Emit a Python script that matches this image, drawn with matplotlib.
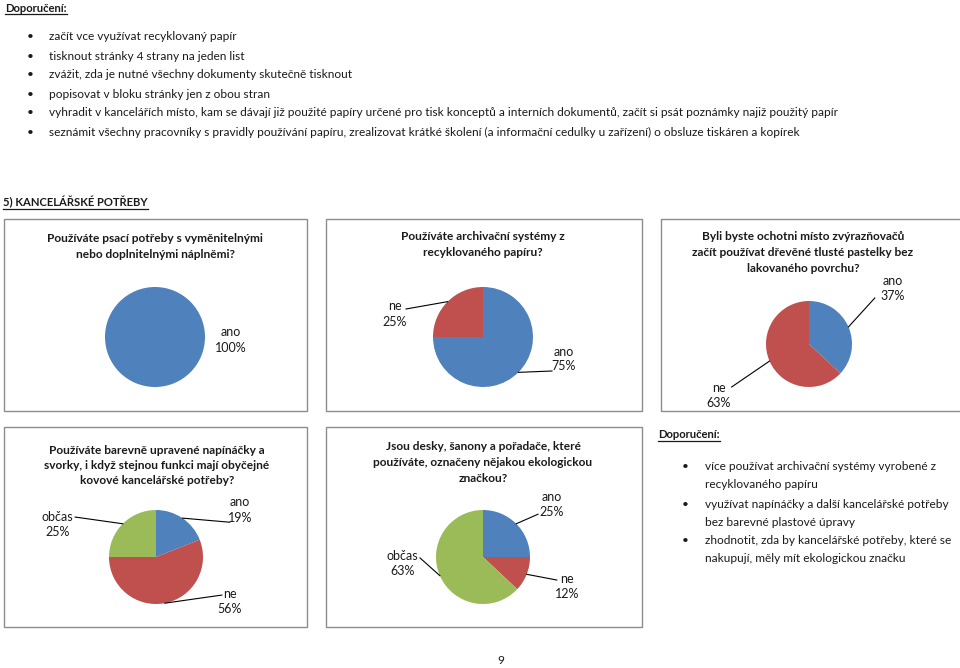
import matplotlib
matplotlib.use("Agg")
import matplotlib.pyplot as plt
import matplotlib.patches as mpatches
import numpy as np

plt.rcParams["font.family"] = ["Lato", "DejaVu Sans"]

# Barvy jako v Excelu 2007
COLORS = {"ano": "#4F81BD", "ne": "#C0504D", "občas": "#9BBB59"}
TEXT = "#1a1a1a"
W, H = 960, 668

# --- data grafů ---
pie1_labels = ["ano"]
pie1_values = [100]
pie2_labels = ["ano", "ne"]
pie2_values = [75, 25]
pie3_labels = ["ano", "ne"]
pie3_values = [37, 63]
pie4_labels = ["ano", "ne", "občas"]
pie4_values = [19, 56, 25]
pie5_labels = ["ano", "ne", "občas"]
pie5_values = [25, 12, 63]

titles = [
    ["Používáte psací potřeby s vyměnitelnými", "nebo doplnitelnými náplněmi?"],
    ["Používáte archivační systémy z", "recyklovaného papíru?"],
    ["Byli byste ochotni místo zvýrazňovačů", "začít používat dřevěné tlusté pastelky bez", "lakovaného povrchu?"],
    ["Používáte barevně upravené napínáčky a", "svorky, i když stejnou funkci mají obyčejné", "kovové kancelářské potřeby?"],
    ["Jsou desky, šanony a pořadače, které", "používáte, označeny nějakou ekologickou", "značkou?"],
]

doporuceni_1 = [
    "začít vce využívat recyklovaný papír",
    "tisknout stránky 4 strany na jeden list",
    "zvážit, zda je nutné všechny dokumenty skutečně tisknout",
    "popisovat v bloku stránky jen z obou stran",
    "vyhradit v kancelářích místo, kam se dávají již použité papíry určené pro tisk konceptů a interních dokumentů, začít si psát poznámky najiž použitý papír",
    "seznámit všechny pracovníky s pravidly používání papíru, zrealizovat krátké školení (a informační cedulky u zařízení) o obsluze tiskáren a kopírek",
]
doporuceni_2 = [
    ["více používat archivační systémy vyrobené z", "recyklovaného papíru"],
    ["využívat napínáčky a další kancelářské potřeby", "bez barevné plastové úpravy"],
    ["zhodnotit, zda by kancelářské potřeby, které se", "nakupují, měly mít ekologickou značku"],
]

# --- rozvržení (pixely) ---
charts = [
    dict(labels=pie1_labels, values=pie1_values, box=(4, 219, 307, 411), center=(155, 337), r=50,
         title_y=238, title_x=155, title_dy=17,
         lab=[((1.52, -0.06), None)]),
    dict(labels=pie2_labels, values=pie2_values, box=(326, 219, 642, 411), center=(483, 337), r=50,
         title_y=237, title_x=483, title_dy=16,
         lab=[((1.62, -0.44), (1.38, -0.68)), ((-1.76, 0.46), (-1.54, 0.56))]),
    dict(labels=pie3_labels, values=pie3_values, box=(661, 219, 980, 411), center=(809, 344), r=43,
         title_y=237, title_x=803, title_dy=15.5,
         lab=[((1.95, 1.30), (1.53, 1.07)), ((-2.1, -1.19), (-1.80, -1.00))]),
    dict(labels=pie4_labels, values=pie4_values, box=(4, 427, 307, 627), center=(156, 557), r=47,
         title_y=450, title_x=157, title_dy=15.5,
         lab=[((1.79, 1.0), (1.57, 0.74)), ((1.57, -0.94), (1.40, -0.81)), ((-2.09, 0.70), (-1.72, 0.85))]),
    dict(labels=pie5_labels, values=pie5_values, box=(326, 427, 642, 627), center=(483, 557), r=47,
         title_y=447, title_x=483, title_dy=15.5,
         lab=[((1.47, 1.11), (1.17, 0.91)), ((1.79, -0.62), (1.57, -0.49)), ((-1.72, -0.13), (-1.34, -0.02))]),
]

FS_BODY = 8.6
FS_HEAD = 8.1
FS_TITLE = 8.6
FS_LAB = 9.0

fig = plt.figure(figsize=(W / 100, H / 100), dpi=100)
ax = fig.add_axes([0, 0, 1, 1])
ax.set_xlim(0, W)
ax.set_ylim(H, 0)
ax.axis("off")

underlined = []

# horní doporučení
t = ax.text(5, 8, "Doporučení:", fontsize=FS_HEAD, fontweight="bold", color=TEXT, va="center", ha="left")
underlined.append(t)
for i, line in enumerate(doporuceni_1):
    y = 37 + i * 19
    ax.text(30, y, "•", fontsize=FS_BODY, color=TEXT, va="center", ha="center")
    ax.text(49, y, line, fontsize=FS_BODY, color=TEXT, va="center", ha="left")

t = ax.text(3, 202, "5) KANCELÁŘSKÉ POTŘEBY", fontsize=FS_HEAD, fontweight="bold", color=TEXT, va="center", ha="left")
underlined.append(t)

# grafy
for ch, title in zip(charts, titles):
    x0, y0, x1, y1 = ch["box"]
    ax.add_patch(mpatches.Rectangle((x0, y0), x1 - x0, y1 - y0, fill=False,
                                    edgecolor="#8c8c8c", linewidth=1.0, clip_on=False))
    for j, tl in enumerate(title):
        ax.text(ch["title_x"], ch["title_y"] + j * ch["title_dy"], tl, fontsize=FS_TITLE, fontweight="bold",
                color=TEXT, ha="center", va="center")

    cx, cy = ch["center"]
    r = ch["r"]
    pax = fig.add_axes([(cx - r) / W, 1 - (cy + r) / H, 2 * r / W, 2 * r / H])
    wedges, _ = pax.pie(ch["values"], colors=[COLORS[l] for l in ch["labels"]],
                        startangle=90, counterclock=False, radius=1,
                        wedgeprops=dict(linewidth=0))
    # pie() nastavuje vlastní meze, proto až po něm
    pax.set_xlim(-1, 1)
    pax.set_ylim(-1, 1)
    pax.axis("off")
    for w, lbl, val, (tpos, lend) in zip(wedges, ch["labels"], ch["values"], ch["lab"]):
        mid = np.deg2rad((w.theta1 + w.theta2) / 2)
        pax.text(tpos[0], tpos[1], f"{lbl}\n{val}%", fontsize=FS_LAB, color=TEXT,
                 ha="center", va="center", linespacing=1.3, clip_on=False)
        if lend is not None:
            pax.plot([np.cos(mid), lend[0]], [np.sin(mid), lend[1]], color="black",
                     linewidth=0.8, clip_on=False)

# dolní doporučení
t = ax.text(658, 435, "Doporučení:", fontsize=FS_HEAD, fontweight="bold", color=TEXT, va="center", ha="left")
underlined.append(t)
ys = [467, 485, 504, 522, 541, 559]
k = 0
for item in doporuceni_2:
    for j, line in enumerate(item):
        if j == 0:
            ax.text(685, ys[k], "•", fontsize=FS_BODY, color=TEXT, va="center", ha="center")
        ax.text(705, ys[k], line, fontsize=FS_BODY, color=TEXT, va="center", ha="left")
        k += 1

ax.text(501, 660, "9", fontsize=FS_BODY, color=TEXT, ha="center", va="center")

# podtržení nadpisů
fig.canvas.draw()
inv = ax.transData.inverted()
for t in underlined:
    bb = t.get_window_extent()
    (xa, ya), (xb, yb) = inv.transform([(bb.x0, bb.y0), (bb.x1, bb.y1)])
    ax.plot([xa, xb], [ya + 0.5, ya + 0.5], color=TEXT, linewidth=0.9)

fig.savefig("out.png", dpi=100)
